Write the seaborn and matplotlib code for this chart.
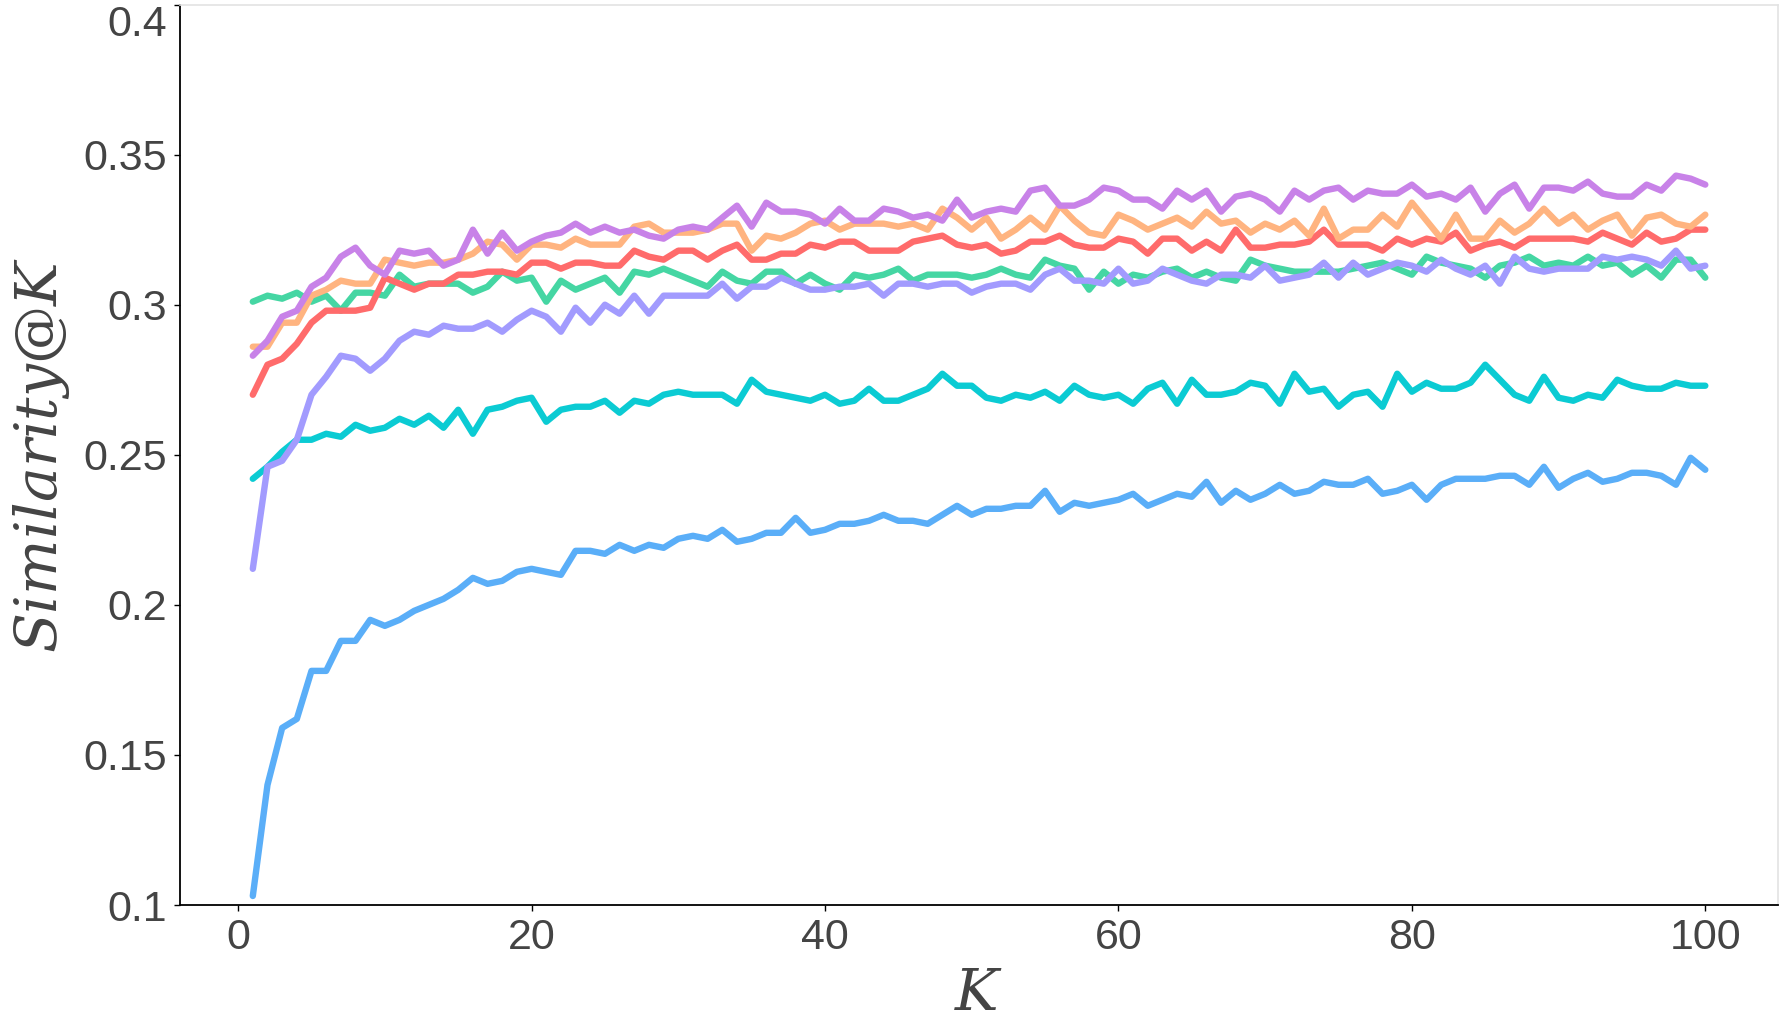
import numpy as np
import pandas as pd
import matplotlib
matplotlib.use("Agg")
import matplotlib.pyplot as plt
import seaborn as sns
from matplotlib.ticker import FuncFormatter

K = list(range(1, 101))

blue = [0.103, 0.140, 0.159, 0.162, 0.178, 0.178, 0.188, 0.188, 0.195, 0.193,
        0.195, 0.198, 0.200, 0.202, 0.205, 0.209, 0.207, 0.208, 0.211, 0.212,
        0.211, 0.210, 0.218, 0.218, 0.217, 0.220, 0.218, 0.220, 0.219, 0.222,
        0.223, 0.222, 0.225, 0.221, 0.222, 0.224, 0.224, 0.229, 0.224, 0.225,
        0.227, 0.227, 0.228, 0.230, 0.228, 0.228, 0.227, 0.230, 0.233, 0.230,
        0.232, 0.232, 0.233, 0.233, 0.238, 0.231, 0.234, 0.233, 0.234, 0.235,
        0.237, 0.233, 0.235, 0.237, 0.236, 0.241, 0.234, 0.238, 0.235, 0.237,
        0.240, 0.237, 0.238, 0.241, 0.240, 0.240, 0.242, 0.237, 0.238, 0.240,
        0.235, 0.240, 0.242, 0.242, 0.242, 0.243, 0.243, 0.240, 0.246, 0.239,
        0.242, 0.244, 0.241, 0.242, 0.244, 0.244, 0.243, 0.240, 0.249, 0.245]

cyan = [0.242, 0.246, 0.251, 0.255, 0.255, 0.257, 0.256, 0.260, 0.258, 0.259,
        0.262, 0.260, 0.263, 0.259, 0.265, 0.257, 0.265, 0.266, 0.268, 0.269,
        0.261, 0.265, 0.266, 0.266, 0.268, 0.264, 0.268, 0.267, 0.270, 0.271,
        0.270, 0.270, 0.270, 0.267, 0.275, 0.271, 0.270, 0.269, 0.268, 0.270,
        0.267, 0.268, 0.272, 0.268, 0.268, 0.270, 0.272, 0.277, 0.273, 0.273,
        0.269, 0.268, 0.270, 0.269, 0.271, 0.268, 0.273, 0.270, 0.269, 0.270,
        0.267, 0.272, 0.274, 0.267, 0.275, 0.270, 0.270, 0.271, 0.274, 0.273,
        0.267, 0.277, 0.271, 0.272, 0.266, 0.270, 0.271, 0.266, 0.277, 0.271,
        0.274, 0.272, 0.272, 0.274, 0.280, 0.275, 0.270, 0.268, 0.276, 0.269,
        0.268, 0.270, 0.269, 0.275, 0.273, 0.272, 0.272, 0.274, 0.273, 0.273]

lavender = [0.212, 0.246, 0.248, 0.255, 0.270, 0.276, 0.283, 0.282, 0.278, 0.282,
            0.288, 0.291, 0.290, 0.293, 0.292, 0.292, 0.294, 0.291, 0.295, 0.298,
            0.296, 0.291, 0.299, 0.294, 0.300, 0.297, 0.303, 0.297, 0.303, 0.303,
            0.303, 0.303, 0.307, 0.302, 0.306, 0.306, 0.309, 0.307, 0.305, 0.305,
            0.306, 0.306, 0.307, 0.303, 0.307, 0.307, 0.306, 0.307, 0.307, 0.304,
            0.306, 0.307, 0.307, 0.305, 0.310, 0.312, 0.308, 0.308, 0.307, 0.312,
            0.307, 0.308, 0.312, 0.310, 0.308, 0.307, 0.310, 0.310, 0.309, 0.313,
            0.308, 0.309, 0.310, 0.314, 0.309, 0.314, 0.310, 0.312, 0.314, 0.313,
            0.311, 0.315, 0.312, 0.310, 0.313, 0.307, 0.316, 0.312, 0.311, 0.312,
            0.312, 0.312, 0.316, 0.315, 0.316, 0.315, 0.313, 0.318, 0.312, 0.313]

green = [0.301, 0.303, 0.302, 0.304, 0.301, 0.303, 0.298, 0.304, 0.304, 0.303,
         0.310, 0.306, 0.307, 0.307, 0.307, 0.304, 0.306, 0.311, 0.308, 0.309,
         0.301, 0.308, 0.305, 0.307, 0.309, 0.304, 0.311, 0.310, 0.312, 0.310,
         0.308, 0.306, 0.311, 0.308, 0.307, 0.311, 0.311, 0.307, 0.310, 0.307,
         0.305, 0.310, 0.309, 0.310, 0.312, 0.308, 0.310, 0.310, 0.310, 0.309,
         0.310, 0.312, 0.310, 0.309, 0.315, 0.313, 0.312, 0.305, 0.311, 0.307,
         0.310, 0.309, 0.311, 0.312, 0.309, 0.311, 0.309, 0.308, 0.315, 0.313,
         0.312, 0.311, 0.311, 0.311, 0.311, 0.312, 0.313, 0.314, 0.312, 0.310,
         0.316, 0.314, 0.313, 0.312, 0.309, 0.313, 0.314, 0.316, 0.313, 0.314,
         0.313, 0.316, 0.313, 0.314, 0.310, 0.313, 0.309, 0.315, 0.315, 0.309]

red = [0.270, 0.280, 0.282, 0.287, 0.294, 0.298, 0.298, 0.298, 0.299, 0.309,
       0.307, 0.305, 0.307, 0.307, 0.310, 0.310, 0.311, 0.311, 0.310, 0.314,
       0.314, 0.312, 0.314, 0.314, 0.313, 0.313, 0.318, 0.316, 0.315, 0.318,
       0.318, 0.315, 0.318, 0.320, 0.315, 0.315, 0.317, 0.317, 0.320, 0.319,
       0.321, 0.321, 0.318, 0.318, 0.318, 0.321, 0.322, 0.323, 0.320, 0.319,
       0.320, 0.317, 0.318, 0.321, 0.321, 0.323, 0.320, 0.319, 0.319, 0.322,
       0.321, 0.317, 0.322, 0.322, 0.318, 0.321, 0.318, 0.325, 0.319, 0.319,
       0.320, 0.320, 0.321, 0.325, 0.320, 0.320, 0.320, 0.318, 0.322, 0.320,
       0.322, 0.321, 0.324, 0.318, 0.320, 0.321, 0.319, 0.322, 0.322, 0.322,
       0.322, 0.321, 0.324, 0.322, 0.320, 0.324, 0.321, 0.322, 0.325, 0.325]

orange = [0.286, 0.286, 0.294, 0.294, 0.303, 0.305, 0.308, 0.307, 0.307, 0.315,
          0.314, 0.313, 0.314, 0.314, 0.315, 0.317, 0.321, 0.320, 0.315, 0.320,
          0.320, 0.319, 0.322, 0.320, 0.320, 0.320, 0.326, 0.327, 0.324, 0.324,
          0.324, 0.325, 0.327, 0.327, 0.318, 0.323, 0.322, 0.324, 0.327, 0.328,
          0.325, 0.327, 0.327, 0.327, 0.326, 0.327, 0.325, 0.332, 0.329, 0.325,
          0.329, 0.322, 0.325, 0.329, 0.325, 0.333, 0.328, 0.324, 0.323, 0.330,
          0.328, 0.325, 0.327, 0.329, 0.326, 0.331, 0.327, 0.328, 0.324, 0.327,
          0.325, 0.328, 0.323, 0.332, 0.322, 0.325, 0.325, 0.330, 0.326, 0.334,
          0.328, 0.322, 0.330, 0.322, 0.322, 0.328, 0.324, 0.327, 0.332, 0.327,
          0.330, 0.325, 0.328, 0.330, 0.323, 0.329, 0.330, 0.327, 0.326, 0.330]

purple = [0.283, 0.288, 0.296, 0.298, 0.306, 0.309, 0.316, 0.319, 0.313, 0.310,
          0.318, 0.317, 0.318, 0.313, 0.315, 0.325, 0.317, 0.324, 0.318, 0.321,
          0.323, 0.324, 0.327, 0.324, 0.326, 0.324, 0.325, 0.323, 0.322, 0.325,
          0.326, 0.325, 0.329, 0.333, 0.326, 0.334, 0.331, 0.331, 0.330, 0.327,
          0.332, 0.328, 0.328, 0.332, 0.331, 0.329, 0.330, 0.328, 0.335, 0.329,
          0.331, 0.332, 0.331, 0.338, 0.339, 0.333, 0.333, 0.335, 0.339, 0.338,
          0.335, 0.335, 0.332, 0.338, 0.335, 0.338, 0.331, 0.336, 0.337, 0.335,
          0.331, 0.338, 0.335, 0.338, 0.339, 0.335, 0.338, 0.337, 0.337, 0.340,
          0.336, 0.337, 0.335, 0.339, 0.331, 0.337, 0.340, 0.332, 0.339, 0.339,
          0.338, 0.341, 0.337, 0.336, 0.336, 0.340, 0.338, 0.343, 0.342, 0.340]

series_names = ["blue", "cyan", "green", "lavender", "red", "orange", "purple"]
series_values = [blue, cyan, green, lavender, red, orange, purple]
colors = ["#5aaef8", "#0bcbd3", "#45d6a3", "#a29bfe", "#ff6b6b", "#ffb480", "#c882e8"]

x_ticks = [0, 20, 40, 60, 80, 100]
y_ticks = [0.1, 0.15, 0.2, 0.25, 0.3, 0.35, 0.4]

df = pd.DataFrame({
    "K": np.tile(K, len(series_names)),
    "value": np.concatenate(series_values),
    "series": np.repeat(series_names, len(K)),
})

sns.set_theme(style="ticks")
plt.rcParams["font.family"] = ["Liberation Sans", "DejaVu Sans"]
plt.rcParams["mathtext.fontset"] = "dejavuserif"

fig = plt.figure(figsize=(17.84, 10.29), dpi=100)
ax = fig.add_axes([0.101, 0.1205, 0.8956, 0.8751])

sns.lineplot(data=df, x="K", y="value", hue="series", hue_order=series_names,
             palette=dict(zip(series_names, colors)), linewidth=4.6, legend=False, ax=ax)

ax.set_ylim(0.1, 0.4)
ax.set_xticks(x_ticks)
ax.set_yticks(y_ticks)
ax.yaxis.set_major_formatter(FuncFormatter(lambda v, p: f"{v:g}"))

ax.tick_params(axis="both", labelsize=31, labelcolor="#444444", color="black",
               length=4.5, width=1, direction="out")
ax.tick_params(axis="y", pad=5)
ax.tick_params(axis="x", pad=5)

# keep the top tick label inside the figure, as in the reference
ax.get_yticklabels()[-1].set_verticalalignment("top")
ax.yaxis.get_major_ticks()[-1].label1.set_verticalalignment("top")

for side in ["left", "bottom"]:
    ax.spines[side].set_color("black")
    ax.spines[side].set_linewidth(1.3)
for side in ["top", "right"]:
    ax.spines[side].set_color("#e3e3e3")
    ax.spines[side].set_linewidth(1.2)

ax.set_xlabel("$K$", fontsize=42, color="#444444", labelpad=7)
ax.set_ylabel("$Similarity@K$", fontsize=42, color="#444444", labelpad=8)

fig.savefig("out.png", dpi=100)
